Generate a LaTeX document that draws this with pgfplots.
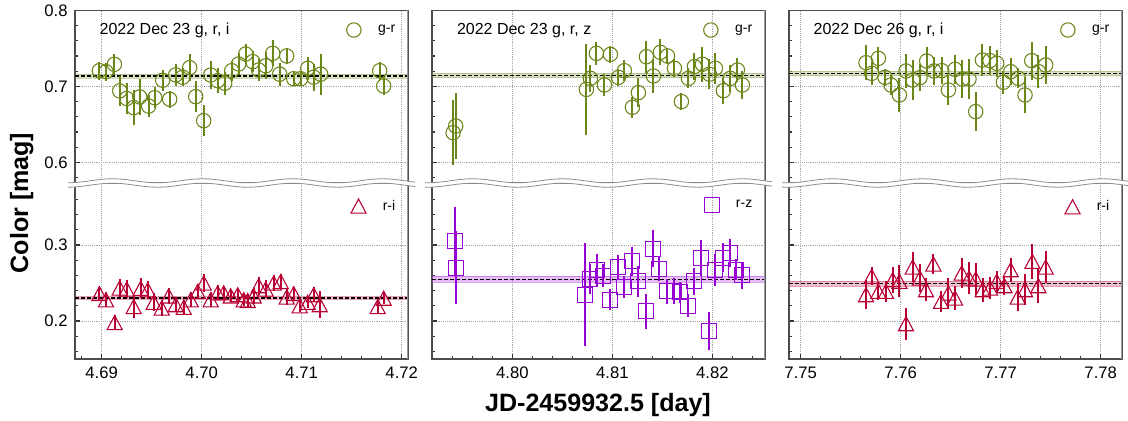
\documentclass[border=0pt]{standalone}
\usepackage{pgfplots}
\usepackage{pgfplotstable}
\pgfplotsset{compat=1.18}
\usepackage{fontspec}
\setmainfont{Liberation Sans}
\definecolor{cgr}{RGB}{107,135,25}
\definecolor{cri}{RGB}{185,0,50}
\definecolor{crz}{RGB}{150,0,210}

\pgfdeclareplotmark{mtri}{%
  \pgfpathmoveto{\pgfqpoint{0pt}{1.0\pgfplotmarksize}}%
  \pgfpathlineto{\pgfqpoint{-1.07\pgfplotmarksize}{-1.0\pgfplotmarksize}}%
  \pgfpathlineto{\pgfqpoint{1.07\pgfplotmarksize}{-1.0\pgfplotmarksize}}%
  \pgfpathclose\pgfusepathqstroke}

\pgfplotstableread{
x y e
4.68977 0.7206 0.012
4.69043 0.7193 0.012
4.69127 0.7290 0.014
4.69180 0.6940 0.020
4.69250 0.6840 0.020
4.69320 0.6720 0.023
4.69380 0.6860 0.024
4.69470 0.6740 0.015
4.69530 0.6850 0.014
4.69610 0.7080 0.014
4.69680 0.6830 0.011
4.69740 0.7150 0.014
4.69810 0.7120 0.012
4.69880 0.7246 0.018
4.69940 0.6864 0.020
4.70020 0.6548 0.020
4.70090 0.7149 0.018
4.70160 0.7075 0.016
4.70230 0.7040 0.015
4.70300 0.7206 0.013
4.70370 0.7294 0.014
4.70440 0.7425 0.013
4.70510 0.7325 0.014
4.70570 0.7215 0.014
4.70640 0.7270 0.018
4.70710 0.7434 0.017
4.70780 0.7160 0.015
4.70850 0.7400 0.011
4.70920 0.7100 0.009
4.70990 0.7100 0.010
4.71060 0.7237 0.015
4.71120 0.7120 0.018
4.71190 0.7160 0.027
4.71780 0.7206 0.012
4.71820 0.7004 0.012
}\tAgr

\pgfplotstableread{
x y e
4.68977 0.2360 0.008
4.69043 0.2280 0.010
4.69130 0.1980 0.010
4.69180 0.2434 0.012
4.69250 0.2420 0.012
4.69320 0.2190 0.015
4.69390 0.2430 0.013
4.69460 0.2410 0.012
4.69520 0.2246 0.012
4.69600 0.2170 0.010
4.69670 0.2330 0.010
4.69740 0.2215 0.010
4.69820 0.2180 0.010
4.69890 0.2280 0.010
4.69960 0.2390 0.010
4.70020 0.2500 0.012
4.70090 0.2280 0.010
4.70160 0.2370 0.010
4.70220 0.2370 0.008
4.70290 0.2330 0.008
4.70360 0.2346 0.008
4.70420 0.2280 0.008
4.70460 0.2270 0.008
4.70520 0.2330 0.010
4.70570 0.2465 0.012
4.70640 0.2420 0.012
4.70720 0.2500 0.010
4.70790 0.2520 0.010
4.70850 0.2316 0.010
4.70920 0.2360 0.008
4.70980 0.2200 0.008
4.71060 0.2246 0.008
4.71120 0.2346 0.010
4.71180 0.2215 0.018
4.71760 0.2190 0.008
4.71820 0.2300 0.008
}\tAri

\pgfplotstableread{
x y e
4.79407 0.6390 0.043
4.79433 0.6478 0.044
4.80740 0.6960 0.060
4.80780 0.7105 0.018
4.80840 0.7434 0.015
4.80920 0.7018 0.014
4.80980 0.7420 0.011
4.81060 0.7118 0.011
4.81120 0.7206 0.014
4.81200 0.6724 0.014
4.81260 0.6917 0.019
4.81340 0.7390 0.021
4.81410 0.7136 0.023
4.81480 0.7447 0.017
4.81550 0.7400 0.010
4.81620 0.7237 0.012
4.81690 0.6800 0.011
4.81760 0.7105 0.013
4.81820 0.7260 0.018
4.81900 0.7290 0.023
4.81970 0.7160 0.020
4.82030 0.7237 0.020
4.82110 0.6943 0.017
4.82180 0.7105 0.018
4.82250 0.7215 0.016
4.82300 0.7018 0.018
}\tBgr

\pgfplotstableread{
x y e
4.79423 0.3048 0.045
4.79433 0.2700 0.048
4.80730 0.2346 0.068
4.80780 0.2553 0.020
4.80850 0.2675 0.021
4.80910 0.2596 0.015
4.80980 0.2280 0.014
4.81060 0.2710 0.016
4.81120 0.2447 0.014
4.81200 0.2785 0.019
4.81260 0.2522 0.020
4.81340 0.2127 0.023
4.81410 0.2952 0.024
4.81470 0.2684 0.016
4.81550 0.2390 0.016
4.81620 0.2390 0.017
4.81680 0.2377 0.014
4.81760 0.2200 0.015
4.81820 0.2522 0.018
4.81890 0.2830 0.024
4.81970 0.1873 0.025
4.82030 0.2667 0.021
4.82110 0.2830 0.019
4.82180 0.2895 0.018
4.82240 0.2675 0.014
4.82300 0.2600 0.018
}\tBrz

\pgfplotstableread{
x y e
7.75653 0.7311 0.023
7.75710 0.7171 0.015
7.75777 0.7368 0.015
7.75843 0.7118 0.011
7.75903 0.7018 0.013
7.75987 0.6886 0.023
7.76053 0.7202 0.023
7.76120 0.7083 0.026
7.76193 0.7114 0.018
7.76260 0.7333 0.019
7.76333 0.7202 0.018
7.76410 0.7206 0.018
7.76477 0.6952 0.020
7.76543 0.7224 0.019
7.76617 0.7096 0.025
7.76683 0.7096 0.026
7.76750 0.6667 0.026
7.76817 0.7346 0.021
7.76893 0.7338 0.019
7.76960 0.7303 0.018
7.77027 0.7053 0.015
7.77100 0.7193 0.018
7.77177 0.7105 0.013
7.77243 0.6886 0.024
7.77310 0.7338 0.025
7.77377 0.7193 0.022
7.77450 0.7281 0.025
}\tCgr

\pgfplotstableread{
x y e
7.75653 0.2346 0.019
7.75710 0.2588 0.012
7.75777 0.2390 0.012
7.75853 0.2390 0.014
7.75920 0.2544 0.017
7.75987 0.2522 0.021
7.76053 0.1965 0.021
7.76120 0.2710 0.020
7.76193 0.2566 0.018
7.76253 0.2412 0.015
7.76327 0.2750 0.013
7.76403 0.2259 0.014
7.76477 0.2368 0.020
7.76543 0.2303 0.016
7.76610 0.2632 0.020
7.76683 0.2566 0.021
7.76750 0.2553 0.021
7.76820 0.2412 0.016
7.76893 0.2434 0.015
7.76960 0.2522 0.014
7.77037 0.2465 0.012
7.77100 0.2675 0.016
7.77170 0.2316 0.018
7.77243 0.2412 0.020
7.77317 0.2785 0.023
7.77377 0.2465 0.023
7.77450 0.2710 0.021
}\tCri

\pgfplotsset{
  base/.style={
    scale only axis, width=249.75pt,
    tick align=inside, xtick pos=bottom, ytick pos=left,
    major tick length=3.5pt, minor tick length=2pt,
    grid=major, grid style={densely dotted, black!35, line width=0.6pt},
    axis line style={black!70, line width=1.1pt},
    every tick/.style={black!80, line width=0.9pt},
    tick label style={font=\fontsize{12.5}{15}\selectfont},
    /pgf/number format/assume math mode=true,
    scaled x ticks=false, scaled y ticks=false,
    yticklabel shift=2pt, xticklabel shift=2.4pt,
    xticklabel style={/pgf/number format/.cd, fixed, fixed zerofill, precision=2},
    legend style={draw=none, fill=none, inner sep=0pt, font=\fontsize{10.5}{12}\selectfont,
      nodes={inner sep=0pt}, column sep=0pt, anchor=east},
    legend image code/.code={\path[draw=none, fill=none] (0pt,-0.5pt) rectangle (18.2pt,0.5pt);
      \draw[##1] plot coordinates {(0pt,0pt)};},
  },
  top/.style={anchor=north west, height=129.5pt, ymin=0.57281, ymax=0.8,
    ytick={0.6,0.7,0.8}, minor ytick={0.58,0.62,0.64,0.66,0.68,0.72,0.74,0.76,0.78},
    xticklabels={}, x tick style={draw=none}},
  bot/.style={anchor=south west, height=132pt, ymin=0.15, ymax=0.381579,
    ytick={0.2,0.3}, minor ytick={0.16,0.18,0.22,0.24,0.26,0.28,0.32,0.34,0.36}},
  gr/.style={only marks, mark=o, color=cgr, mark size=5.4pt, mark options={line width=0.8pt},
    error bars/.cd, y dir=both, y explicit, error bar style={line width=1.6pt}, error mark=none},
  ri/.style={only marks, mark=mtri, color=cri, mark size=5.3pt, mark options={line width=0.8pt},
    error bars/.cd, y dir=both, y explicit, error bar style={line width=1.6pt}, error mark=none},
  rz/.style={only marks, mark=square, color=crz, mark size=5.6pt, mark options={line width=0.8pt},
    error bars/.cd, y dir=both, y explicit, error bar style={line width=1.6pt}, error mark=none},
  meanline/.style={black, line width=0.9pt, dash pattern=on 3pt off 1.5pt, forget plot},
}
\newcommand\ttl{\fontsize{12}{14}\selectfont}
\newcommand\rspine{\draw[black!40, line width=1.1pt] (rel axis cs:1,0) -- (rel axis cs:1,1);}

\begin{document}
\begin{tikzpicture}
\useasboundingbox (0,0) rectangle (846pt,-315.75pt);

% ---------------- Panel 1 top
\begin{axis}[base, top, at={(56.25pt,-7.75pt)}, xmin=4.68733, xmax=4.72063,
  xtick={4.69,4.70,4.71,4.72},
  legend style={at={(0.9625,0.886)}}]
\addplot[draw=cgr!70, draw opacity=0.5, line width=0.3pt, fill=cgr, fill opacity=0.25, forget plot]
  coordinates {(4.68733,0.7105)(4.72063,0.7105)(4.72063,0.7165)(4.68733,0.7165)} -- cycle;
\addplot[meanline] coordinates {(4.68733,0.7135)(4.72063,0.7135)};
\addplot[forget plot, gr] table[x=x, y=y, y error=e] {\tAgr};
\addlegendimage{mark=o, cgr, mark size=5.4pt, mark options={line width=0.8pt}}
\addlegendentry{g-r}
\node[anchor=base west, font=\ttl] at (rel axis cs:0.06,0.861) {2022 Dec 23 g, r, i};
\rspine
\end{axis}

% ---------------- Panel 1 bottom
\begin{axis}[base, bot, at={(56.25pt,-269.25pt)}, xmin=4.68733, xmax=4.72063,
  xtick={4.69,4.70,4.71,4.72},
  minor xtick={4.688,4.692,4.694,4.696,4.698,4.702,4.704,4.706,4.708,4.712,4.714,4.716,4.718},
  legend style={at={(0.9625,0.869)}}]
\addplot[draw=cri!70, draw opacity=0.5, line width=0.3pt, fill=cri, fill opacity=0.25, forget plot]
  coordinates {(4.68733,0.2285)(4.72063,0.2285)(4.72063,0.2321)(4.68733,0.2321)} -- cycle;
\addplot[meanline] coordinates {(4.68733,0.2303)(4.72063,0.2303)};
\addplot[forget plot, ri] table[x=x, y=y, y error=e] {\tAri};
\addlegendimage{mark=mtri, cri, mark size=5.3pt, mark options={line width=0.8pt}}
\addlegendentry{r-i}
\rspine
\end{axis}

% ---------------- Panel 2 top
\begin{axis}[base, top, at={(324pt,-7.75pt)}, xmin=4.79196, xmax=4.82526,
  xtick={4.80,4.81,4.82}, yticklabels={},
  legend style={at={(0.9625,0.886)}}]
\addplot[draw=cgr!70, draw opacity=0.5, line width=0.3pt, fill=cgr, fill opacity=0.25, forget plot]
  coordinates {(4.79196,0.7115)(4.82526,0.7115)(4.82526,0.7175)(4.79196,0.7175)} -- cycle;
\addplot[meanline] coordinates {(4.79196,0.7145)(4.82526,0.7145)};
\addplot[forget plot, gr] table[x=x, y=y, y error=e] {\tBgr};
\addlegendimage{mark=o, cgr, mark size=5.4pt, mark options={line width=0.8pt}}
\addlegendentry{g-r}
\node[anchor=base west, font=\ttl] at (rel axis cs:0.061,0.861) {2022 Dec 23 g, r, z};
\rspine
\end{axis}

% ---------------- Panel 2 bottom
\begin{axis}[base, bot, at={(324pt,-269.25pt)}, xmin=4.79196, xmax=4.82526,
  xtick={4.80,4.81,4.82}, yticklabels={},
  minor xtick={4.792,4.794,4.796,4.798,4.802,4.804,4.806,4.808,4.812,4.814,4.816,4.818,4.822,4.824},
  legend style={at={(0.9625,0.875)}}]
\addplot[draw=crz!70, draw opacity=0.5, line width=0.3pt, fill=crz, fill opacity=0.25, forget plot]
  coordinates {(4.79196,0.2507)(4.82526,0.2507)(4.82526,0.2587)(4.79196,0.2587)} -- cycle;
\addplot[meanline] coordinates {(4.79196,0.2547)(4.82526,0.2547)};
\addplot[forget plot, rz] table[x=x, y=y, y error=e] {\tBrz};
\addlegendimage{mark=square, crz, mark size=5.6pt, mark options={line width=0.8pt}}
\addlegendentry{r-z}
\rspine
\end{axis}

% ---------------- Panel 3 top
\begin{axis}[base, top, at={(591.75pt,-7.75pt)}, xmin=7.74883, xmax=7.78213,
  xtick={7.75,7.76,7.77,7.78}, yticklabels={},
  legend style={at={(0.9625,0.886)}}]
\addplot[draw=cgr!70, draw opacity=0.5, line width=0.3pt, fill=cgr, fill opacity=0.25, forget plot]
  coordinates {(7.74883,0.7140)(7.78213,0.7140)(7.78213,0.7204)(7.74883,0.7204)} -- cycle;
\addplot[meanline] coordinates {(7.74883,0.7172)(7.78213,0.7172)};
\addplot[forget plot, gr] table[x=x, y=y, y error=e] {\tCgr};
\addlegendimage{mark=o, cgr, mark size=5.4pt, mark options={line width=0.8pt}}
\addlegendentry{g-r}
\node[anchor=base west, font=\ttl] at (rel axis cs:0.06,0.861) {2022 Dec 26 g, r, i};
\rspine
\end{axis}

% ---------------- Panel 3 bottom
\begin{axis}[base, bot, at={(591.75pt,-269.25pt)}, xmin=7.74883, xmax=7.78213,
  xtick={7.75,7.76,7.77,7.78}, yticklabels={},
  minor xtick={7.752,7.754,7.756,7.758,7.762,7.764,7.766,7.768,7.772,7.774,7.776,7.778},
  legend style={at={(0.9625,0.865)}}]
\addplot[draw=cri!70, draw opacity=0.5, line width=0.3pt, fill=cri, fill opacity=0.25, forget plot]
  coordinates {(7.74883,0.2460)(7.78213,0.2460)(7.78213,0.2520)(7.74883,0.2520)} -- cycle;
\addplot[meanline] coordinates {(7.74883,0.2490)(7.78213,0.2490)};
\addplot[forget plot, ri] table[x=x, y=y, y error=e] {\tCri};
\addlegendimage{mark=mtri, cri, mark size=5.3pt, mark options={line width=0.8pt}}
\addlegendentry{r-i}
\rspine
\end{axis}

% ---------------- axis break markers
\begin{scope}[x=1pt,y=1pt]
\foreach \a/\b in {51/311.25, 318.75/579, 586.5/846}{
  \draw[white, line width=3.4pt] plot[domain=\a:\b, samples=120, smooth] (\x, {-137.25+1.5*sin(5.333*\x)});
  \draw[black!45, line width=0.6pt] plot[domain=\a:\b, samples=120, smooth] (\x, {-135.6+1.5*sin(5.333*\x)});
  \draw[black!45, line width=0.6pt] plot[domain=\a:\b, samples=120, smooth] (\x, {-138.9+1.5*sin(5.333*\x)});
}
\end{scope}

% ---------------- axis labels
\node[rotate=90, anchor=base, font=\bfseries\fontsize{18.8}{22}\selectfont] at (21pt,-152.25pt) {Color [mag]};
\node[anchor=base, font=\bfseries\fontsize{18.8}{22}\selectfont] at (448.5pt,-308.8pt) {JD-2459932.5 [day]};
\end{tikzpicture}
\end{document}
